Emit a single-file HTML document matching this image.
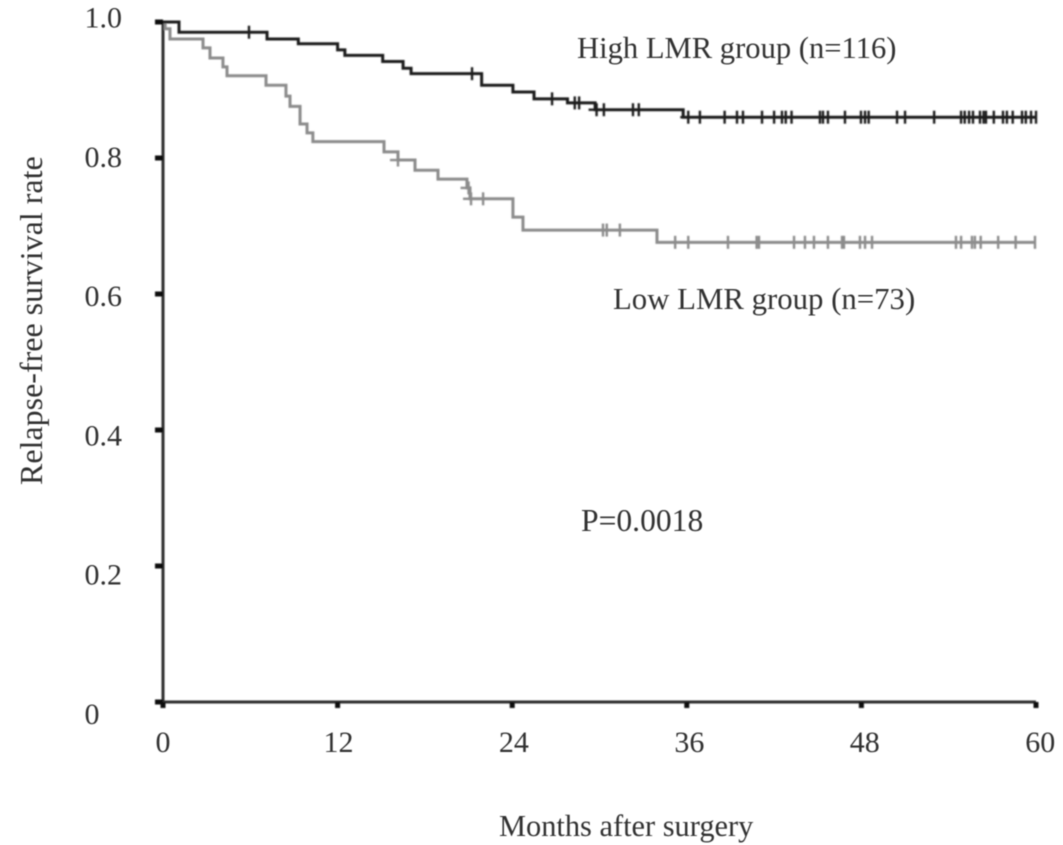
<!DOCTYPE html>
<html lang="en">
<head>
<meta charset="utf-8">
<title>Relapse-free survival by LMR group</title>
<style>
  html, body { margin: 0; padding: 0; background: #fff; }
  #chart { display: block; width: 1063px; height: 845px; }
  text { font-family: "Liberation Serif", "Times New Roman", serif; font-size: 30px; fill: #333; }
</style>
</head>
<body>
<svg id="chart" xmlns="http://www.w3.org/2000/svg" width="1063" height="845" viewBox="0 0 1063 845">
  <defs>
    <filter id="soft" x="-5%" y="-5%" width="110%" height="110%"><feGaussianBlur stdDeviation="0.8"/></filter>
    <filter id="softText" x="-5%" y="-5%" width="110%" height="110%"><feGaussianBlur stdDeviation="0.5"/></filter>
  </defs>
  <g id="marks" filter="url(#soft)"></g>
  <g id="labels" filter="url(#softText)">
    <text transform="translate(42,485) rotate(-90)" style="font-size:32px">Relapse-free survival rate</text>
    <text x="499" y="836" style="font-size:30.4px">Months after surgery</text>
    <text x="577" y="58" style="font-size:30.6px">High LMR group (n=116)</text>
    <text x="613" y="309" style="font-size:30.8px">Low LMR group (n=73)</text>
    <text x="581" y="531" style="font-size:31.6px">P=0.0018</text>
  </g>
</svg>
<script>
const xTicks = [0, 12, 24, 36, 48, 60];
const yTicks = [0, 0.2, 0.4, 0.6, 0.8, 1.0];
const yTickLabels = ["0", "0.2", "0.4", "0.6", "0.8", "1.0"];

const highTimes = [1.1, 7.15, 9.3, 12.0, 12.5, 15.1, 16.5, 17.05, 21.9, 24.05, 25.5, 27.8, 29.7, 35.75];
const highSurvival = [0.985, 0.975, 0.968, 0.959, 0.951, 0.942, 0.932, 0.924, 0.907, 0.897, 0.887, 0.881, 0.871, 0.860];
const highCensored = [5.91, 21.24, 26.74, 28.3, 28.6, 29.8, 30.3, 32.3, 32.7, 36.1, 36.9, 38.6, 39.45, 39.86, 41.17, 42, 42.54, 42.8, 43.2, 45.15, 45.36, 45.7, 46.87, 47.97, 48.25, 48.5, 50.45, 51, 53, 54.85, 55.1, 55.4, 55.67, 56.15, 56.4, 56.56, 57.1, 57.73, 58, 58.4, 59.04, 59.3, 59.66, 60];
const highStubbed = [29.8, 36.1];

const lowTimes = [0.15, 0.48, 2.75, 3.23, 4.12, 4.4, 7.08, 8.45, 8.73, 9.42, 9.9, 10.3, 15.19, 16.15, 17.32, 18.9, 20.89, 21.1, 24.05, 24.74, 33.95];
const lowSurvival = [0.990, 0.975, 0.962, 0.947, 0.934, 0.921, 0.907, 0.891, 0.876, 0.850, 0.837, 0.824, 0.809, 0.797, 0.782, 0.769, 0.756, 0.740, 0.713, 0.694, 0.676];
const lowCensored = [16.15, 21.0, 21.17, 22, 30.24, 30.5, 31.4, 35.2, 36.1, 38.83, 40.8, 40.96, 43.37, 44.12, 44.74, 45.7, 46.67, 46.8, 47.9, 48.25, 48.73, 54.5, 54.85, 55.6, 55.8, 56.2, 57.4, 58.6, 59.93];
const lowStubbed = [16.15, 21.0, 21.17];

const NS = "http://www.w3.org/2000/svg";
const marks = document.getElementById("marks");
const labels = document.getElementById("labels");
const xScale = function (t) { return 163 + t * 14.55; };
const yScale = function (v) { return 702 - v * 680; };
const yLabelBaseline = function (v) { return 724 - v * 696.5; };

function makeLine(x1, y1, x2, y2, color, width) {
  const l = document.createElementNS(NS, "line");
  l.setAttribute("x1", x1);
  l.setAttribute("y1", y1);
  l.setAttribute("x2", x2);
  l.setAttribute("y2", y2);
  l.setAttribute("stroke", color);
  l.setAttribute("stroke-width", width);
  return l;
}

function makeText(x, y, str, anchor) {
  const t = document.createElementNS(NS, "text");
  t.setAttribute("x", x);
  t.setAttribute("y", y);
  t.setAttribute("text-anchor", anchor);
  t.textContent = str;
  return t;
}

function levelAt(times, survival, t) {
  let v = 1;
  for (let i = 0; i < times.length; i++) {
    if (times[i] <= t) v = survival[i];
  }
  return v;
}

function stepPath(times, survival) {
  let d = "M" + xScale(0) + " " + yScale(1);
  let prev = 1;
  for (let i = 0; i < times.length; i++) {
    d += "L" + xScale(times[i]) + " " + yScale(prev);
    d += "L" + xScale(times[i]) + " " + yScale(survival[i]);
    prev = survival[i];
  }
  d += "L" + xScale(60) + " " + yScale(prev);
  return d;
}

const yAxis = makeLine(xScale(0), yScale(1) - 1, xScale(0), yScale(0) + 1, "#2e2e2e", 3);


marks.appendChild(yAxis);

const xAxis = makeLine(xScale(0), yScale(0), xScale(60), yScale(0), "#2e2e2e", 3);


marks.appendChild(xAxis);

yTicks.forEach(function (v, i) {
  const tick = makeLine(xScale(0) - 8, yScale(v), xScale(0), yScale(v), "#111", 5);
  
  
  marks.appendChild(tick);
  const label = makeText(84.5, yLabelBaseline(v), yTickLabels[i], "start");
  
  
  labels.appendChild(label);
});

xTicks.forEach(function (t) {
  const tick = makeLine(xScale(t), yScale(0), xScale(t), yScale(0) + 6, "#111", 5);
  
  
  marks.appendChild(tick);
  const label = makeText(xScale(t) + t * 0.07, 752, String(t), "middle");
  
  
  labels.appendChild(label);
});

function drawSeries(name, times, survival, censored, stubbed, color, width) {
  const path = document.createElementNS(NS, "path");
  path.setAttribute("d", stepPath(times, survival));
  path.setAttribute("fill", "none");
  path.setAttribute("stroke", color);
  path.setAttribute("stroke-width", width);
  
  
  marks.appendChild(path);
  censored.forEach(function (t) {
    const y = yScale(levelAt(times, survival, t));
    const c = makeLine(xScale(t), y - 6.5, xScale(t), y + 6.5, color, 2.4);
    
    
    marks.appendChild(c);
  });
  stubbed.forEach(function (t) {
    const y = yScale(levelAt(times, survival, t));
    const s = makeLine(xScale(t) - 8, y, xScale(t), y, color, 2.4);
    
    
    marks.appendChild(s);
  });
}

drawSeries("low-lmr", lowTimes, lowSurvival, lowCensored, lowStubbed, "#8c8c8c", 3);
drawSeries("high-lmr", highTimes, highSurvival, highCensored, highStubbed, "#1f1f1f", 3);
</script>
</body>
</html>
